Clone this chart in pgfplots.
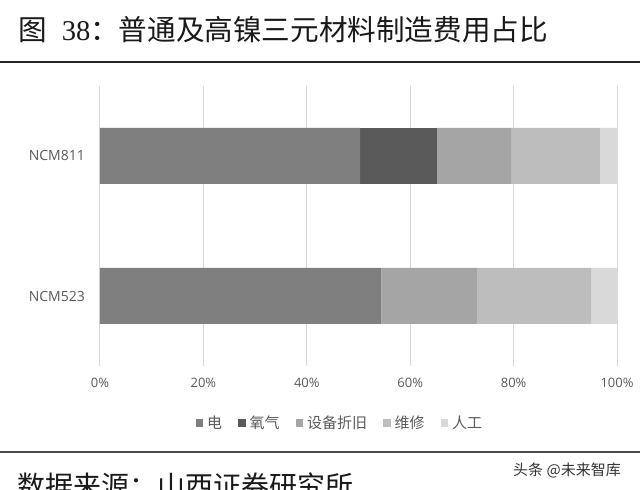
\documentclass[border=0pt]{standalone}
\usepackage{fontspec}
\usepackage{pgfplots}
\pgfplotsset{compat=1.18}
\setmainfont{Noto Sans CJK SC}
\newfontfamily\tickfont{Open Sans}
\newfontfamily\numfont{Liberation Serif}
\definecolor{cDian}{HTML}{7F7F7F}
\definecolor{cYang}{HTML}{5A5A5A}
\definecolor{cShebei}{HTML}{A5A5A5}
\definecolor{cWeixiu}{HTML}{BDBDBD}
\definecolor{cRengong}{HTML}{D9D9D9}
\definecolor{labelgray}{HTML}{595959}
\definecolor{gridgray}{HTML}{D9D9D9}

\begin{document}
\begin{tikzpicture}
\useasboundingbox (0,0) rectangle (640bp,490bp);
% title and rules
\node[anchor=base west, inner sep=0pt, text=black!90]
  at (18bp,449bp) {\fontsize{28.6bp}{30bp}\selectfont 图\hspace{15bp}{\numfont 38}：普通及高镍三元材料制造费用占比};
\draw[line width=1.6bp, black!85] (0,428bp) -- (640bp,428bp);
\draw[line width=2bp, black!70] (0,38bp) -- (640bp,38bp);
\node[anchor=base west, inner sep=0pt, text=black!90]
  at (17bp,-6bp) {\fontsize{28bp}{30bp}\selectfont 数据来源：山西证券研究所};
\node[inner sep=0pt, text=black!80] at (567bp,20bp)
  {\fontsize{15bp}{17bp}\selectfont 头条 @未来智库};

\begin{axis}[
    at={(100bp,124bp)}, anchor=south west,
    scale only axis,
    width=517bp, height=280bp,
    xbar stacked,
    bar width=56bp,
    xmin=0, xmax=100,
    ymin=-0.5, ymax=1.5,
    xtick={0,20,40,60,80,100},
    xticklabel={\pgfmathprintnumber{\tick}\%},
    /pgf/number format/assume math mode=true,
    ytick={0,1},
    yticklabels={NCM523,NCM811},
    major tick length=0pt,
    axis line style={draw=none},
    xmajorgrids,
    grid style={gridgray, line width=1bp},
    ticklabel style={text=labelgray},
    xticklabel style={anchor=north, inner sep=0pt, yshift=-12bp,
      font=\tickfont\fontsize{13bp}{15bp}\selectfont},
    yticklabel style={anchor=east, inner sep=0pt, xshift=-15bp,
      font=\tickfont\fontsize{14bp}{16bp}\selectfont},
    legend columns=5,
    legend style={at={(axis description cs:0.179,-0.203)}, anchor=west,
      draw=none, fill=none, text=labelgray,
      font=\fontsize{15bp}{17bp}\selectfont,
      /tikz/every odd column/.append style={column sep=2bp},
      /tikz/every even column/.append style={column sep=14bp}},
    legend image code/.code={\fill[#1, draw=none] (0bp,-3.8bp) rectangle (7.5bp,3.8bp);},
]
\addplot[fill=cDian, draw=none] coordinates {(54.4,0) (50.3,1)};
\addplot[fill=cYang, draw=none] coordinates {(0,0) (14.9,1)};
\addplot[fill=cShebei, draw=none] coordinates {(18.5,0) (14.3,1)};
\addplot[fill=cWeixiu, draw=none] coordinates {(22.1,0) (17.3,1)};
\addplot[fill=cRengong, draw=none] coordinates {(5.0,0) (3.2,1)};
\legend{电,氧气,设备折旧,维修,人工}
\end{axis}
\end{tikzpicture}
\end{document}
